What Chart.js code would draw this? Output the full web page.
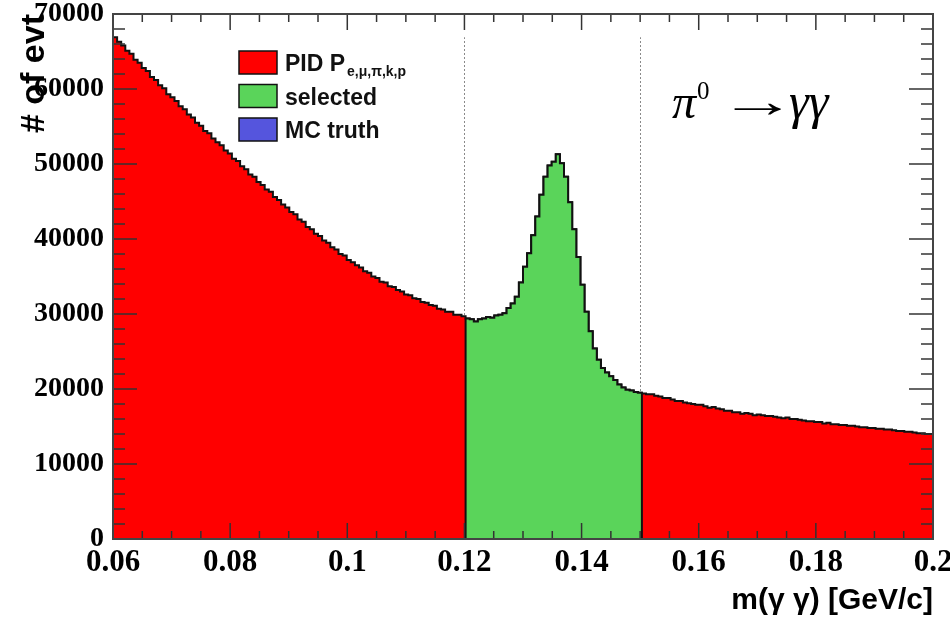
<!DOCTYPE html>
<html>
<head>
<meta charset="utf-8">
<script src="https://cdn.jsdelivr.net/npm/chart.js@4.4.1/dist/chart.umd.min.js"></script>
<style>
  body { margin: 0; background: #fff; }
</style>
</head>
<body>
<canvas id="massChart" width="950" height="619"></canvas>
<script>
// 200 bins between 0.06 and 0.2 GeV/c
const binStart = 0.06;
const binWidth = 0.0007;

// entries per bin
const lowSideband = [
  66900, 66300, 65800, 65100, 64700, 63900, 63500, 62800, 62400, 61600,
  61200, 60500, 60100, 59300, 58900, 58400, 57700, 57300, 56600, 56200,
  55500, 55100, 54400, 54100, 53400, 52900, 52500, 51800, 51400, 50700,
  50400, 49700, 49300, 48600, 48300, 47600, 47200, 46600, 46300, 45600,
  45200, 44600, 44200, 43600, 43300, 42600, 42300, 41600, 41300, 40700,
  40400, 39800, 39500, 38900, 38600, 38000, 37800, 37200, 36900, 36500,
  36200, 35700, 35500, 35000, 34800, 34300, 34200, 33700, 33600, 33200,
  33000, 32600, 32500, 32100, 32000, 31600, 31500, 31200, 31100, 30700,
  30600, 30300, 30300, 29900, 29900, 29700
];
const massWindow = [
  29400, 29300, 29000, 29300, 29400, 29600, 29500, 29800, 29900, 30100,
  30800, 31400, 32300, 34200, 36300, 38100, 40500, 43000, 45900, 48300,
  49800, 50300, 51300, 50100, 48300, 44900, 41300, 37600, 33900, 30300,
  27700, 25400, 23900, 22800, 22200, 21700, 21200, 20600, 20200, 19900,
  19800, 19600, 19500
];
const highSideband = [
  19400, 19300, 19300, 19100, 19000, 18800, 18800, 18600, 18400, 18400,
  18200, 18100, 18000, 17900, 17900, 17700, 17500, 17600, 17400, 17300,
  17100, 17100, 16900, 16900, 16700, 16800, 16700, 16500, 16600, 16500,
  16400, 16400, 16300, 16200, 16100, 16200, 16000, 16000, 15900, 15800,
  15700, 15700, 15600, 15600, 15400, 15500, 15300, 15300, 15200, 15200,
  15100, 15100, 15000, 14900, 14900, 14800, 14800, 14700, 14700, 14600,
  14600, 14500, 14400, 14400, 14300, 14300, 14200, 14100, 14100, 14000,
  14000
];

const windowCuts = [0.12, 0.15];
const xTickLabels = ['0.06', '0.08', '0.1', '0.12', '0.14', '0.16', '0.18', '0.2'];
const yTickLabels = ['0', '10000', '20000', '30000', '40000', '50000', '60000', '70000'];
const seriesNames = ['PID P', 'selected', 'MC truth'];
const seriesSubs = ['e,\u03bc,\u03c0,k,p', '', ''];
const seriesColors = ['#ff0000', '#5ad45a', '#5555dd'];

const allCounts = lowSideband.concat(massWindow, highSideband);

// stepped outline: left bin edges, closed down to zero at both ends
function histPoints(values, firstBin) {
  const pts = [{ x: binStart + firstBin * binWidth, y: 0 }];
  values.forEach((v, i) => pts.push({ x: binStart + (firstBin + i) * binWidth, y: v }));
  pts.push({ x: binStart + (firstBin + values.length) * binWidth, y: 0 });
  return pts;
}

const rootStyle = {
  id: 'rootStyle',
  beforeDatasetsDraw(chart) {
    const { ctx, chartArea, scales: { x, y } } = chart;
    const top = y.getPixelForValue(Math.max(...allCounts));
    ctx.save();
    ctx.strokeStyle = '#8a8a8a';
    ctx.lineWidth = 1;
    ctx.setLineDash([2, 2]);
    windowCuts.forEach(c => {
      const px = Math.round(x.getPixelForValue(c)) + 0.5;
      ctx.beginPath();
      ctx.moveTo(px, chartArea.bottom);
      ctx.lineTo(px, top);
      ctx.stroke();
    });
    ctx.restore();
  },
  afterDatasetsDraw(chart) {
    const { ctx, chartArea: a, scales: { x, y } } = chart;
    ctx.save();
    ctx.strokeStyle = '#333';
    ctx.lineWidth = 1.5;
    const xMajor = xTickLabels.map(parseFloat);
    const yMajor = yTickLabels.map(parseFloat);
    const tick = (x1, y1, x2, y2) => { ctx.beginPath(); ctx.moveTo(x1, y1); ctx.lineTo(x2, y2); ctx.stroke(); };
    xMajor.forEach((v, i) => {
      const px = x.getPixelForValue(v);
      tick(px, a.bottom, px, a.bottom - 16);
      tick(px, a.top, px, a.top + 16);
      if (i < xMajor.length - 1) {
        for (let k = 1; k < 4; k++) {
          const mx = x.getPixelForValue(v + (xMajor[i + 1] - v) * k / 4);
          tick(mx, a.bottom, mx, a.bottom - 8);
          tick(mx, a.top, mx, a.top + 8);
        }
      }
    });
    yMajor.forEach((v, i) => {
      const py = y.getPixelForValue(v);
      tick(a.left, py, a.left + 24, py);
      tick(a.right, py, a.right - 24, py);
      if (i < yMajor.length - 1) {
        for (let k = 1; k < 5; k++) {
          const my = y.getPixelForValue(v + (yMajor[i + 1] - v) * k / 5);
          tick(a.left, my, a.left + 12, my);
          tick(a.right, my, a.right - 12, my);
        }
      }
    });
    ctx.strokeStyle = '#444';
    ctx.lineWidth = 2;
    ctx.strokeRect(a.left, a.top, a.right - a.left, a.bottom - a.top);
    ctx.restore();
  },
  afterDraw(chart) {
    const { ctx } = chart;
    ctx.save();
    // legend
    chart.data.datasets.forEach((ds, i) => {
      const bx = 239, by = 51 + i * 33.5;
      ctx.fillStyle = seriesColors[i];
      ctx.fillRect(bx, by, 38, 23);
      ctx.strokeStyle = '#111';
      ctx.lineWidth = 1.5;
      ctx.strokeRect(bx, by, 38, 23);
      ctx.fillStyle = '#111';
      ctx.font = 'bold 23px "Liberation Sans"';
      ctx.textBaseline = 'alphabetic';
      ctx.fillText(seriesNames[i], 285, by + 20);
      if (seriesSubs[i]) {
        const w = ctx.measureText(seriesNames[i]).width;
        ctx.font = 'bold 14px "Liberation Sans"';
        ctx.fillText(seriesSubs[i], 285 + w + 2, by + 25);
      }
    });
    // decay label
    ctx.fillStyle = '#000';
    ctx.font = 'italic 48px "Liberation Serif"';
    ctx.fillText('\u03c0', 672, 118);
    ctx.font = '25px "Liberation Serif"';
    ctx.fillText('0', 697, 99);
    ctx.save();
    ctx.translate(719, 117);
    ctx.scale(1.7, 1);
    ctx.font = '46px "Liberation Serif"';
    ctx.fillText('\u2192', 0, 0);
    ctx.restore();
    ctx.font = 'italic 50px "Liberation Serif"';
    ctx.fillText('\u03b3\u03b3', 789, 118);
    ctx.restore();
  }
};

new Chart(document.getElementById('massChart'), {
  type: 'line',
  data: {
    datasets: [
      {
        label: seriesNames[0],
        data: histPoints(allCounts, 0),
        backgroundColor: seriesColors[0],
        borderColor: '#111',
        borderWidth: 2,
        fill: 'origin',
        stepped: true,
        pointRadius: 0,
        order: 2
      },
      {
        label: seriesNames[1],
        data: histPoints(massWindow, lowSideband.length),
        backgroundColor: seriesColors[1],
        borderColor: '#111',
        borderWidth: 2,
        fill: 'origin',
        stepped: true,
        pointRadius: 0,
        order: 1
      },
      {
        label: seriesNames[2],
        data: [],
        backgroundColor: seriesColors[2],
        borderColor: '#111',
        borderWidth: 2,
        fill: 'origin',
        pointRadius: 0,
        order: 0
      }
    ]
  },
  options: {
    responsive: false,
    animation: false,
    layout: { padding: { top: 14, right: 17, left: 0, bottom: 0 } },
    plugins: {
      legend: { display: false },
      tooltip: { enabled: false }
    },
    scales: {
      x: {
        type: 'linear',
        min: 0.06,
        max: 0.2,
        grid: { display: false, drawTicks: false },
        border: { display: false },
        afterBuildTicks: s => { s.ticks = xTickLabels.map(t => ({ value: parseFloat(t) })); },
        afterFit: s => { s.height = 80; s.paddingLeft = 0; s.paddingRight = 0; },
        ticks: {
          autoSkip: false,
          maxRotation: 0,
          padding: 5,
          color: '#000',
          font: { family: '"Liberation Serif"', weight: 'bold', size: 31 },
          callback: (v, i) => xTickLabels[i]
        },
        title: {
          display: true,
          text: 'm(\u03b3 \u03b3) [GeV/c]',
          align: 'end',
          color: '#000',
          padding: { top: 0, bottom: 0 },
          font: { family: '"Liberation Sans"', weight: 'bold', size: 30 }
        }
      },
      y: {
        min: 0,
        max: 70000,
        grid: { display: false, drawTicks: false },
        border: { display: false },
        afterBuildTicks: s => { s.ticks = yTickLabels.map(t => ({ value: parseFloat(t) })); },
        afterFit: s => { s.width = 113; s.paddingTop = 0; s.paddingBottom = 0; },
        ticks: {
          padding: 9,
          color: '#000',
          font: { family: '"Liberation Serif"', weight: 'bold', size: 28 },
          callback: (v, i) => yTickLabels[i]
        },
        title: {
          display: true,
          text: '# of evt',
          align: 'end',
          color: '#000',
          padding: { top: 14, bottom: 0 },
          font: { family: '"Liberation Sans"', weight: 'bold', size: 34 }
        }
      }
    }
  },
  plugins: [rootStyle]
});
</script>
</body>
</html>
